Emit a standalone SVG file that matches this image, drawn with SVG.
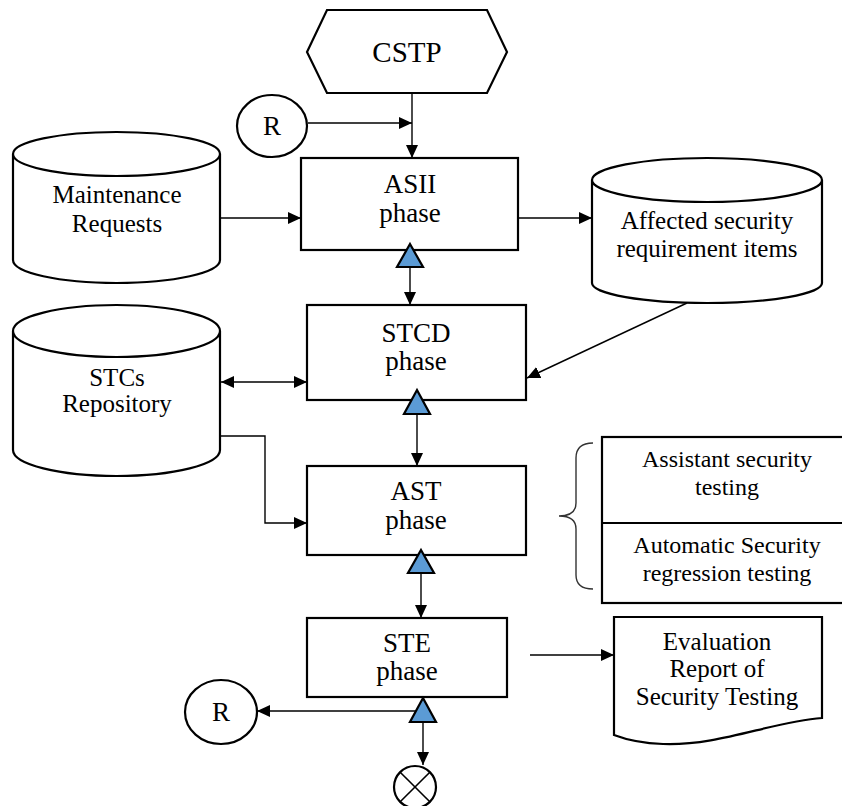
<svg xmlns="http://www.w3.org/2000/svg" width="842" height="806" viewBox="0 0 842 806">
<style>
.s{fill:#fff;stroke:#000;stroke-width:2.2}
.t{font-family:'Liberation Serif',Tinos,'Times New Roman',Times,'DejaVu Serif',serif;fill:#000;text-anchor:middle}
.b{font-size:27px}
.c{font-size:25px}
.l{fill:none;stroke:#000;stroke-width:1.4}
.tri{fill:#5B9BD5;stroke:#000;stroke-width:2.2;stroke-linejoin:miter}
</style>
<defs>
<marker id="a" markerUnits="userSpaceOnUse" markerWidth="13" markerHeight="12" refX="13" refY="6" orient="auto-start-reverse" viewBox="0 0 13 12">
<path d="M0,0 L13,6 L0,12 Z" fill="#000"/>
</marker>
</defs>
<rect width="842" height="806" fill="#fff"/>

<g id="connectors">
<line class="l" x1="412" y1="93" x2="412" y2="158" marker-end="url(#a)"/>
<line class="l" x1="308" y1="123" x2="412" y2="123" marker-end="url(#a)"/>
<line class="l" x1="220" y1="218" x2="301" y2="218" marker-end="url(#a)"/>
<line class="l" x1="518" y1="218" x2="592" y2="218" marker-end="url(#a)"/>
<line class="l" x1="410" y1="267" x2="410" y2="305" marker-end="url(#a)"/>
<line class="l" x1="687" y1="303" x2="527" y2="378" marker-end="url(#a)"/>
<line class="l" x1="221" y1="382" x2="307" y2="382" marker-start="url(#a)" marker-end="url(#a)"/>
<line class="l" x1="417" y1="414" x2="417" y2="466" marker-end="url(#a)"/>
<polyline class="l" points="221,436 265,436 265,523 307,523" marker-end="url(#a)"/>
<line class="l" x1="421" y1="573" x2="421" y2="618" marker-end="url(#a)"/>
<line class="l" x1="530" y1="655" x2="614" y2="655" marker-end="url(#a)"/>
<line class="l" x1="423" y1="711" x2="257" y2="711" marker-end="url(#a)"/>
<line class="l" x1="423" y1="722" x2="423" y2="765" marker-end="url(#a)"/>
</g>

<g id="cstp">
<polygon class="s" points="327,10 487,10 507,52 487,93 327,93 307,52"/>
<text class="t" x="407" y="62" font-size="29">CSTP</text>
</g>

<g id="r-top">
<ellipse class="s" cx="272" cy="126" rx="35" ry="31"/>
<text class="t" x="272" y="135" font-size="27">R</text>
</g>

<g id="maintenance">
<path class="s" d="M13,154 A103.5,22 0 0 1 220,154 A103.5,22 0 0 1 13,154 Z M13,154 V260 A103.5,23 0 0 0 220,260 V154"/>
<text class="t c" x="117" y="203">Maintenance</text>
<text class="t c" x="117" y="232">Requests</text>
</g>

<g id="asii">
<rect class="s" x="301" y="158" width="217" height="92"/>
<text class="t b" x="410" y="193">ASII</text>
<text class="t b" x="410" y="222">phase</text>
<polygon class="tri" points="410,244 423,267 397,267"/>
</g>

<g id="affected">
<path class="s" d="M592,180 A115,22 0 0 1 822,180 A115,22 0 0 1 592,180 Z M592,180 V283 A115,20 0 0 0 822,283 V180"/>
<text class="t c" x="707" y="229">Affected security</text>
<text class="t c" x="707" y="257">requirement items</text>
</g>

<g id="stcs">
<path class="s" d="M13,331 A103.5,26 0 0 1 220,331 A103.5,26 0 0 1 13,331 Z M13,331 V450 A103.5,26 0 0 0 220,450 V331"/>
<text class="t c" x="117" y="386">STCs</text>
<text class="t c" x="117" y="412">Repository</text>
</g>

<g id="stcd">
<rect class="s" x="307" y="305" width="219" height="95"/>
<text class="t b" x="416" y="342">STCD</text>
<text class="t b" x="416" y="370">phase</text>
<polygon class="tri" points="417,390 430,414 404,414"/>
</g>

<g id="ast">
<rect class="s" x="307" y="466" width="219" height="89"/>
<text class="t b" x="416" y="500">AST</text>
<text class="t b" x="416" y="529">phase</text>
<polygon class="tri" points="421,550 434,573 408,573"/>
</g>

<g id="brace">
<path d="M593,443 Q576,443 576,458 V503 Q576,516 559,516 Q576,516 576,529 V575 Q576,589 593,589" fill="none" stroke="#333" stroke-width="1.4"/>
</g>

<g id="testing-types">
<rect class="s" x="602" y="437" width="250" height="166"/>
<line x1="602" y1="523" x2="852" y2="523" stroke="#000" stroke-width="2.2"/>
<text class="t" x="727" y="467" font-size="24">Assistant security</text>
<text class="t" x="727" y="495" font-size="24">testing</text>
<text class="t" x="727" y="553" font-size="24">Automatic Security</text>
<text class="t" x="727" y="581" font-size="24">regression testing</text>
</g>

<g id="ste">
<rect class="s" x="307" y="618" width="200" height="79"/>
<text class="t b" x="407" y="652">STE</text>
<text class="t b" x="407" y="680">phase</text>
<polygon class="tri" points="423,698 436,722 410,722"/>
</g>

<g id="report">
<path class="s" d="M614,617 H822 V718 C770,722 720,746 663,744 Q635,743 614,735 Z"/>
<text class="t c" x="717" y="650">Evaluation</text>
<text class="t c" x="717" y="677">Report of</text>
<text class="t c" x="717" y="705">Security Testing</text>
</g>

<g id="r-bottom">
<ellipse class="s" cx="221" cy="712" rx="36" ry="32"/>
<text class="t" x="221" y="721" font-size="27">R</text>
</g>

<g id="end">
<circle class="s" cx="415" cy="787" r="21"/>
<line x1="400.2" y1="772.2" x2="429.8" y2="801.8" stroke="#000" stroke-width="1.6"/>
<line x1="429.8" y1="772.2" x2="400.2" y2="801.8" stroke="#000" stroke-width="1.6"/>
</g>
</svg>
